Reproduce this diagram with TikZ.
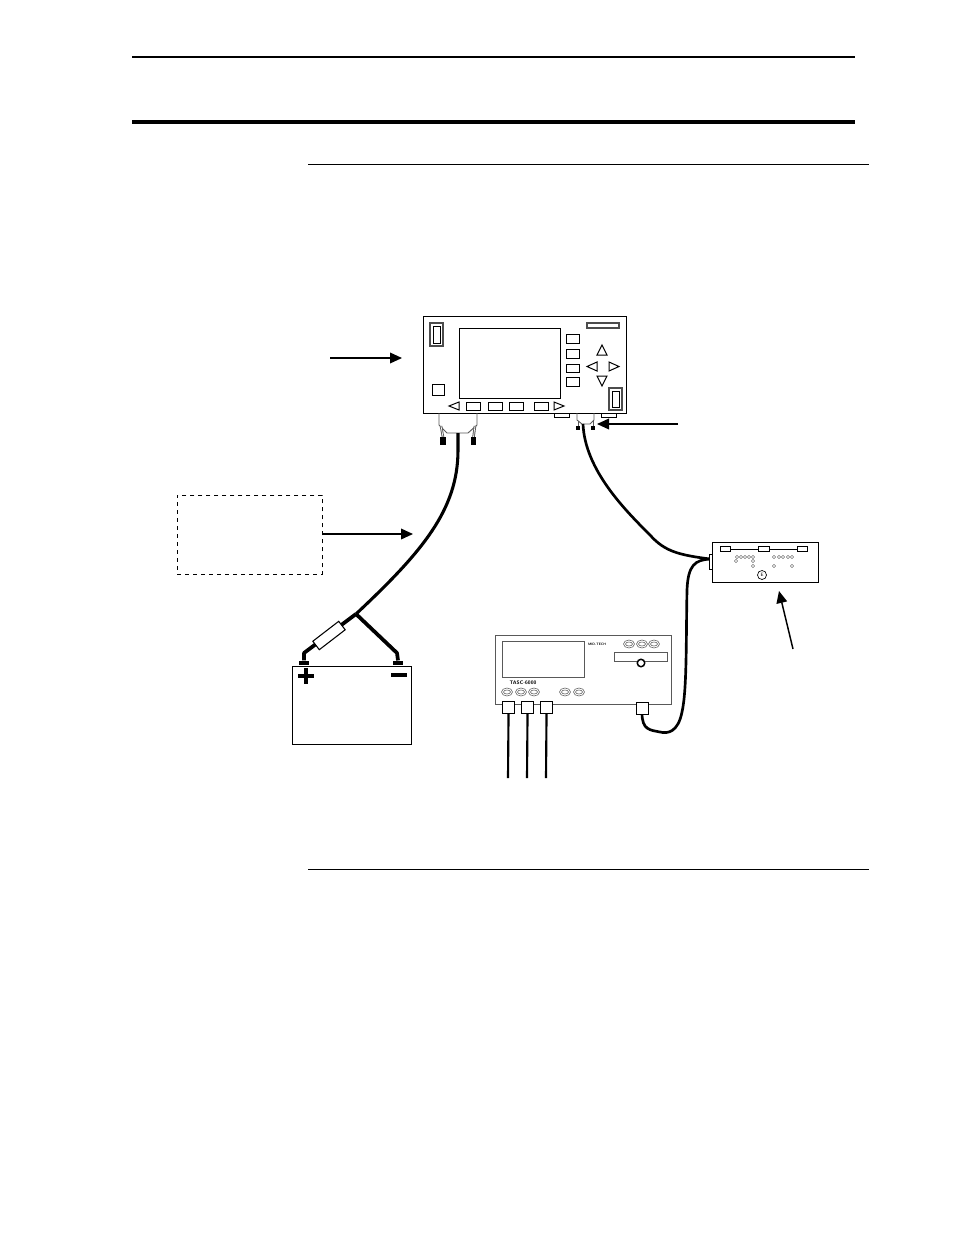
\documentclass[tikz,border=0pt]{standalone}
\usepackage{amsmath}
\usepackage{tikz}
\usetikzlibrary{shapes,arrows,arrows.meta}
\tikzset{
  box/.style={draw,rectangle,inner sep=0pt,line width=0.8pt,fill=white},
  key/.style={draw,line width=0.75pt,fill=white},
  grayline/.style={draw=black!65,line width=0.7pt},
  softkey/.style={draw=black!60,line width=0.45pt},
  cable/.style={line width=2.3pt,line join=round},
  battlead/.style={line width=2.8pt,line join=round},
  thincable/.style={line width=2pt},
  lead/.style={line width=1.6pt},
  callout/.style={-{Triangle[length=9pt,width=8pt]},line width=1.1pt},
  terminal/.style={rectangle,fill=black,inner sep=0pt},
  hole/.style={draw=black!70,line width=0.3pt}
}
\begin{document}
\begin{tikzpicture}[x=0.75pt,y=0.75pt,yscale=-1,xscale=1]
\useasboundingbox (0,0) rectangle (954,1235);

%Page rules
\draw [line width=1.1pt] (132,57) -- (855,57);
\draw [line width=2.7pt] (132,122) -- (855,122);
\draw [line width=0.7pt] (308,164) -- (869,164);
\draw [line width=0.7pt] (308,869) -- (869,869);

%Cable leads under the connectors
\coordinate (leftout) at (458,433);
\coordinate (rightout) at (583,424);
\coordinate (junction) at (356,614);
\coordinate (splitter) at (710,559);
\coordinate (turn) at (687,590);

%Control panel
\node (panel) [box,anchor=north west,minimum width=152.25pt,minimum height=72.75pt] at (423,316) {};
\node (screen) [box,anchor=north west,minimum width=75.75pt,minimum height=52.5pt] at (459,328) {};
\draw [key,draw=black!70,line width=1pt] (430,323) rectangle (443,346);
\draw [key] (433,326) rectangle (440,343);
\draw [key] (432,384) rectangle (444,395);
\foreach \ytop/\ybot in {334/343,349/358,364/372,377/386}
  \draw [key] (566,\ytop) rectangle (579,\ybot);
\draw [key,draw=black!70,line width=1pt] (587,323) rectangle (619,328);
%Direction keys
\draw [key] (597,355) -- (607,355) -- (602,345) -- cycle;
\draw [key] (597,376) -- (607,376) -- (602,386) -- cycle;
\draw [key] (597,362) -- (597,371) -- (587,366.5) -- cycle;
\draw [key] (609,362) -- (609,371) -- (619,366.5) -- cycle;
\draw [key,draw=black!70,line width=1pt] (609,388) rectangle (622,410);
\draw [key] (612,391) rectangle (619,407);
%Softkeys
\draw [key] (459,402) -- (459,410) -- (449,406) -- cycle;
\foreach \xl/\xr in {466/480,488/502,509/523,534/548}
  \draw [key] (\xl,402) rectangle (\xr,410);
\draw [key] (554,402) -- (554,410) -- (564,406) -- cycle;
\draw [key] (554,413) rectangle (569,417);
\draw [key] (601,413) rectangle (616,417);

%Left connector
\draw [grayline] (439,413) -- (439,425) -- (447,433) -- (468,433) -- (477,425) -- (477,413);
\draw [grayline,double,double distance=0.5pt] (441,426) -- (443,437);
\draw [grayline,double,double distance=0.5pt] (475,426) -- (473.5,437);
\node (leftplug) [terminal,minimum width=4.5pt,minimum height=6pt,anchor=north] at (443,437) {};
\node (rightplug) [terminal,minimum width=4pt,minimum height=6pt,anchor=north] at (473.5,437) {};

%Right connector
\draw [grayline] (577,413) -- (577,420) -- (582,424) -- (590,424) -- (594,420) -- (594,413);
\draw [grayline] (578,421) -- (578,426);
\draw [grayline] (593,421) -- (593,426);
\node (pinA) [terminal,minimum width=2.6pt,minimum height=3pt,anchor=north] at (578,426) {};
\node (pinB) [terminal,minimum width=2.6pt,minimum height=3pt,anchor=north] at (593,426) {};

%Battery
\node (battery) [box,anchor=north west,minimum width=89.25pt,minimum height=58.5pt] at (292,665.5) {};
\node (posterm) [terminal,minimum width=7.5pt,minimum height=3.4pt,anchor=south] at (304,665.5) {};
\node (negterm) [terminal,minimum width=7.5pt,minimum height=3.4pt,anchor=south] at (398,665.5) {};
\draw [line width=2.6pt] (298,676) -- (314,676);
\draw [line width=2.6pt] (306,668) -- (306,683.5);
\draw [line width=2.8pt] (391,675) -- (407,675);

%Cables
\draw [cable] (leftout) -- (458,450) .. controls (458,510) and (422,552) .. (junction);
\draw [battlead] (junction) -- (304,653) -- (posterm.north);
\draw [battlead] (junction) -- (397,653) -- (negterm.north);
\draw [thincable] (rightout) .. controls (585,470) and (625,510) .. (650,535) .. controls (665,552) and (680,555) .. (splitter);
\draw [thincable] (splitter) .. controls (695,560) and (688,565) .. (turn) .. controls (686,640) and (687,690) .. (682,712) .. controls (678,732) and (668,734) .. (660,732) .. controls (650,730) and (642,730) .. (642,713);
\node (fuse) [box,rotate=37.6,minimum width=24.5pt,minimum height=8pt] at (329,635.5) {};

%Tester
\node (tester) [grayline,rectangle,inner sep=0pt,anchor=north west,minimum width=132pt,minimum height=51.75pt] at (495,635) {};
\draw [grayline] (502,641) rectangle (584,677);
\draw [grayline] (614,652) rectangle (667,661);
\draw [fill=white,line width=1.1pt] (641,663) circle [radius=3.75];
\foreach \cx in {629,642,654}{
  \draw [softkey] (\cx,644) ellipse [x radius=5.5,y radius=4];
  \draw [softkey] (\cx,644) ellipse [x radius=3.5,y radius=2];
}
\foreach \cx in {507,521,534,565,579}{
  \draw [softkey] (\cx,692) ellipse [x radius=5.5,y radius=4];
  \draw [softkey] (\cx,692) ellipse [x radius=3.5,y radius=2];
}
\node (model) [inner sep=0pt] at (523,682.5) {\fontsize{3.8}{4}\selectfont\sffamily\bfseries TASC-6000};
\node (maker) [inner sep=0pt] at (597,644.5) {\fontsize{2.5}{3}\selectfont\sffamily\bfseries MID-TECH};
\foreach \name/\xl in {portA/502,portB/521,portC/540}
  \node (\name) [box,anchor=north west,minimum width=9pt,minimum height=9pt] at (\xl,700.5) {};
\node (portD) [box,anchor=north west,minimum width=9pt,minimum height=9pt] at (636,701.5) {};
\coordinate (endA) at (508,778);
\coordinate (endB) at (527,778);
\coordinate (endC) at (546,778);
\draw [lead] (portA.south) -- (endA);
\draw [lead] (portB.south) -- (endB);
\draw [lead] (portC.south) -- (endC);

%Remote module
\node (module) [box,anchor=north west,minimum width=79.5pt,minimum height=30pt] at (712,542) {};
\draw [key,line width=0.5pt] (709,554) rectangle (712,569);
\node (slotA) [box,line width=0.5pt,anchor=north west,minimum width=7.5pt,minimum height=3.75pt] at (720,546) {};
\node (slotB) [box,line width=0.5pt,anchor=north west,minimum width=8.25pt,minimum height=3.75pt] at (758,546) {};
\node (slotC) [box,line width=0.5pt,anchor=north west,minimum width=7.5pt,minimum height=3.75pt] at (797,546) {};
\draw [line width=0.5pt] (slotA) -- (slotB);
\draw [line width=0.5pt] (slotB) -- (slotC);
\foreach \cx/\cy in {737/557,741/557,745/557,749/557,753/557,774/557,779/557,783/557,788/557,792/557,736/561,753/561,753/566,774/566,792/566}
  \draw [hole] (\cx,\cy) circle [radius=1.7];
\node (badge) [circle,draw,line width=0.5pt,inner sep=0pt,minimum size=6.75pt] at (762,575) {\fontsize{3.5}{4}\selectfont\sffamily E};

%Note box
\node (note) [draw,dashed,rectangle,inner sep=0pt,line width=0.7pt,anchor=north west,minimum width=108.75pt,minimum height=59.25pt] at (177,495) {};

%Callouts
\coordinate (panelfrom) at (330,358);
\coordinate (paneltip) at (402,358);
\coordinate (portfrom) at (678,424);
\coordinate (porttip) at (597,424);
\coordinate (cabletip) at (413,534);
\coordinate (modulefrom) at (793,649);
\coordinate (moduletip) at (779,591);
\draw [callout] (panelfrom) -- (paneltip);
\draw [callout] (portfrom) -- (porttip);
\draw [callout] (note.east |- cabletip) -- (cabletip);
\draw [callout] (modulefrom) -- (moduletip);

\end{tikzpicture}
\end{document}
